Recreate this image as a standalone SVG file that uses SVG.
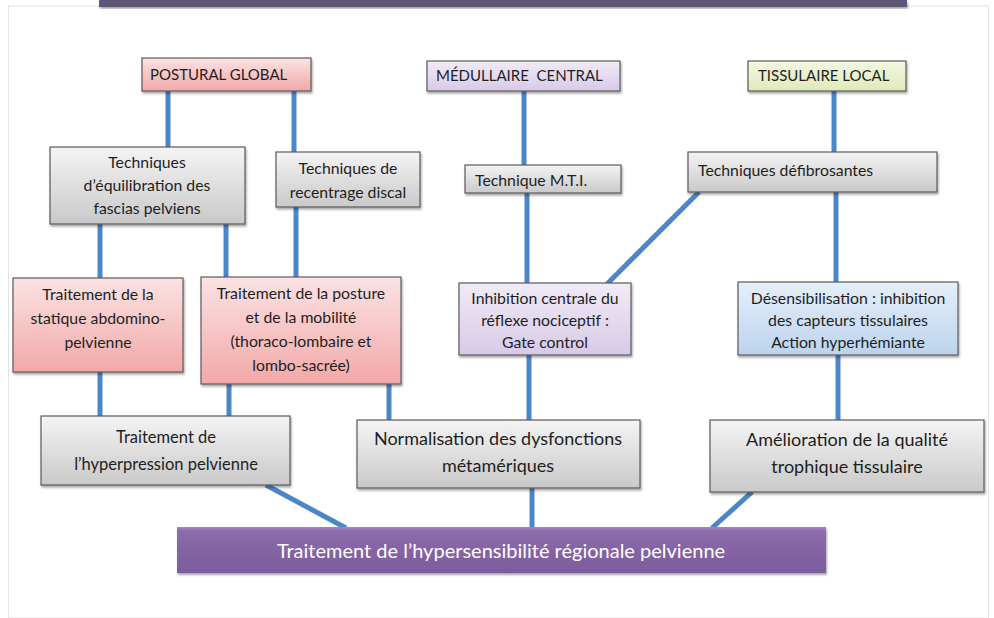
<svg xmlns="http://www.w3.org/2000/svg" width="994" height="618" viewBox="0 0 994 618">
<defs>
<linearGradient id="gGrey" x1="0" y1="0" x2="0" y2="1"><stop offset="0" stop-color="#f4f4f4"/><stop offset="1" stop-color="#c9c9c9"/></linearGradient>
<linearGradient id="gPink" x1="0" y1="0" x2="0" y2="1"><stop offset="0" stop-color="#fbe3e3"/><stop offset="1" stop-color="#f2a8a8"/></linearGradient>
<linearGradient id="gLav" x1="0" y1="0" x2="0" y2="1"><stop offset="0" stop-color="#f1ebf7"/><stop offset="1" stop-color="#d8c9e8"/></linearGradient>
<linearGradient id="gGreen" x1="0" y1="0" x2="0" y2="1"><stop offset="0" stop-color="#f3f7e3"/><stop offset="1" stop-color="#dfeab8"/></linearGradient>
<linearGradient id="gBlue" x1="0" y1="0" x2="0" y2="1"><stop offset="0" stop-color="#e6eff9"/><stop offset="1" stop-color="#bcd3ee"/></linearGradient>
<linearGradient id="gPurple" x1="0" y1="0" x2="0" y2="1"><stop offset="0" stop-color="#a385bf"/><stop offset="0.1" stop-color="#8c6aab"/><stop offset="1" stop-color="#7c5c9c"/></linearGradient>
<filter id="sh" x="-10%" y="-10%" width="120%" height="130%"><feDropShadow dx="1" dy="2" stdDeviation="1.2" flood-color="#000" flood-opacity="0.35"/></filter>
</defs>
<style>
.b{stroke:#5a5a5a;stroke-width:1.2;filter:url(#sh)}
.t{font-family:Lato,"Open Sans","Liberation Sans",sans-serif;font-size:15.8px;fill:#1e1e1e}
.c{text-anchor:middle}
.l{font-size:18px}
.conn line{stroke:#4a86c8;stroke-width:5}
</style>
<rect x="8.5" y="6" width="980" height="612" fill="#fff" stroke="#e2e2e2"/>
<rect x="99" y="0" width="808" height="7" fill="#5e5676" filter="url(#sh)"/>
<g class="conn">
<line x1="168" y1="91" x2="168" y2="147"/>
<line x1="294" y1="91" x2="294" y2="152"/>
<line x1="100" y1="224" x2="100" y2="278"/>
<line x1="226" y1="224" x2="226" y2="277"/>
<line x1="296" y1="207" x2="296" y2="277"/>
<line x1="100" y1="372" x2="100" y2="416"/>
<line x1="229" y1="384" x2="229" y2="416"/>
<line x1="389" y1="384" x2="389" y2="420"/>
<line x1="524" y1="91" x2="524" y2="165"/>
<line x1="527" y1="193" x2="527" y2="283"/>
<line x1="699" y1="192" x2="607" y2="284"/>
<line x1="834" y1="91" x2="834" y2="152"/>
<line x1="836" y1="192" x2="836" y2="282"/>
<line x1="529" y1="355" x2="529" y2="420"/>
<line x1="838" y1="355" x2="838" y2="420"/>
<line x1="266" y1="485" x2="346" y2="528"/>
<line x1="532" y1="488" x2="532" y2="528"/>
<line x1="752" y1="492" x2="712" y2="528"/>
</g>
<g id="postural"><rect class="b" x="142" y="58" width="169" height="33" fill="url(#gPink)"/><text class="t" x="150" y="80" style="font-size:15px">POSTURAL GLOBAL</text></g>
<g id="medullaire"><rect class="b" x="427" y="61" width="193" height="30" fill="url(#gLav)"/><text class="t" x="436" y="81" style="white-space:pre;font-size:15px">MÉDULLAIRE  CENTRAL</text></g>
<g id="tissulaire"><rect class="b" x="748" y="61" width="158" height="30" fill="url(#gGreen)"/><text class="t" x="758" y="81" style="font-size:15px">TISSULAIRE LOCAL</text></g>
<g id="equilibration"><rect class="b" x="50" y="147" width="195" height="77" fill="url(#gGrey)"/><text class="t c" x="147" y="168">Techniques</text><text class="t c" x="147" y="191">d’équilibration des</text><text class="t c" x="147" y="214">fascias pelviens</text></g>
<g id="recentrage"><rect class="b" x="276" y="152" width="144" height="55" fill="url(#gGrey)"/><text class="t c" x="348" y="174">Techniques de</text><text class="t c" x="348" y="198">recentrage discal</text></g>
<g id="mti"><rect class="b" x="465" y="165" width="156" height="28" fill="url(#gGrey)"/><text class="t" x="475" y="186">Technique M.T.I.</text></g>
<g id="defibrosantes"><rect class="b" x="688" y="152" width="249" height="40" fill="url(#gGrey)"/><text class="t" x="698" y="176">Techniques défibrosantes</text></g>
<g id="statique"><rect class="b" x="13" y="278" width="170" height="94" fill="url(#gPink)"/><text class="t c" x="98" y="300">Traitement de la</text><text class="t c" x="98" y="324">statique abdomino-</text><text class="t c" x="98" y="348">pelvienne</text></g>
<g id="posture"><rect class="b" x="201" y="277" width="200" height="107" fill="url(#gPink)"/><text class="t c" x="301" y="299">Traitement de la posture</text><text class="t c" x="301" y="323">et de la mobilité</text><text class="t c" x="301" y="347">(thoraco-lombaire et</text><text class="t c" x="301" y="371">lombo-sacrée)</text></g>
<g id="inhibition"><rect class="b" x="459" y="283" width="172" height="72" fill="url(#gLav)"/><text class="t c" x="545" y="304">Inhibition centrale du</text><text class="t c" x="545" y="326">réflexe nociceptif :</text><text class="t c" x="545" y="348">Gate control</text></g>
<g id="desensibilisation"><rect class="b" x="738" y="282" width="220" height="73" fill="url(#gBlue)"/><text class="t c" x="848" y="304">Désensibilisation : inhibition</text><text class="t c" x="848" y="326">des capteurs tissulaires</text><text class="t c" x="848" y="348">Action hyperhémiante</text></g>
<g id="hyperpression"><rect class="b" x="41" y="416" width="249" height="69" fill="url(#gGrey)"/><text class="t c l" x="166" y="443" style="font-size:16.5px">Traitement de</text><text class="t c l" x="166" y="470" style="font-size:16.5px">l’hyperpression pelvienne</text></g>
<g id="normalisation"><rect class="b" x="357" y="420" width="283" height="68" fill="url(#gGrey)"/><text class="t c l" x="498" y="445">Normalisation des dysfonctions</text><text class="t c l" x="498" y="472">métamériques</text></g>
<g id="amelioration"><rect class="b" x="710" y="420" width="274" height="72" fill="url(#gGrey)"/><text class="t c l" x="847" y="446">Amélioration de la qualité</text><text class="t c l" x="847" y="473">trophique tissulaire</text></g>
<g id="hypersensibilite"><rect x="177" y="527" width="649" height="46" fill="url(#gPurple)" filter="url(#sh)"/><text class="t c" x="501" y="558" style="font-size:20px;fill:#fff">Traitement de l’hypersensibilité régionale pelvienne</text></g>
</svg>
